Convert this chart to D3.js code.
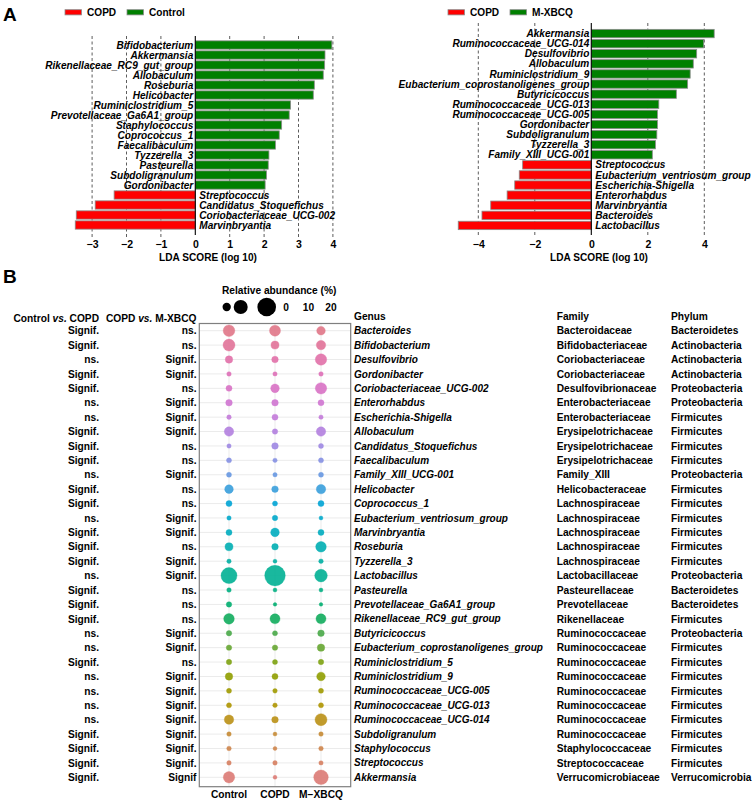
<!DOCTYPE html>
<html><head><meta charset="utf-8">
<script src="https://cdn.jsdelivr.net/npm/d3@7/dist/d3.min.js"></script>
<style>
body{margin:0;background:#fff;}
svg{display:block;font-family:"Liberation Sans",Arial,Helvetica,sans-serif;}
text{font-weight:bold;}
</style></head>
<body><svg id="c" width="753" height="801"></svg>
<script>
// ---------- Panel A data ----------
const leftGenera = ["Bifidobacterium","Akkermansia","Rikenellaceae_RC9_gut_group","Allobaculum","Roseburia","Helicobacter","Ruminiclostridium_5","Prevotellaceae_Ga6A1_group","Staphylococcus","Coprococcus_1","Faecalibaculum","Tyzzerella_3","Pasteurella","Subdoligranulum","Gordonibacter","Streptococcus","Candidatus_Stoquefichus","Coriobacteriaceae_UCG-002","Marvinbryantia"];
const leftLDA = [3.97,3.77,3.76,3.72,3.46,3.43,2.77,2.73,2.51,2.44,2.33,2.14,2.12,2.07,2.03,-2.36,-2.91,-3.46,-3.49];
const leftTicks = [-3,-2,-1,0,1,2,3,4];
const leftLegend = ["COPD","Control"];

const rightGenera = ["Akkermansia","Ruminococcaceae_UCG-014","Desulfovibrio","Allobaculum","Ruminiclostridium_9","Eubacterium_coprostanoligenes_group","Butyricicoccus","Ruminococcaceae_UCG-013","Ruminococcaceae_UCG-005","Gordonibacter","Subdoligranulum","Tyzzerella_3","Family_XIII_UCG-001","Streptococcus","Eubacterium_ventriosum_group","Escherichia-Shigella","Enterorhabdus","Marvinbryantia","Bacteroides","Lactobacillus"];
const rightLDA = [4.35,3.98,3.73,3.61,3.50,3.41,3.01,2.39,2.34,2.34,2.32,2.27,2.16,-2.43,-2.55,-2.71,-2.98,-3.56,-3.87,-4.71];
const rightTicks = [-4,-2,0,2,4];
const rightLegend = ["COPD","M-XBCQ"];

// ---------- Panel B data ----------
const genusB = ["Bacteroides","Bifidobacterium","Desulfovibrio","Gordonibacter","Coriobacteriaceae_UCG-002","Enterorhabdus","Escherichia-Shigella","Allobaculum","Candidatus_Stoquefichus","Faecalibaculum","Family_XIII_UCG-001","Helicobacter","Coprococcus_1","Eubacterium_ventriosum_group","Marvinbryantia","Roseburia","Tyzzerella_3","Lactobacillus","Pasteurella","Prevotellaceae_Ga6A1_group","Rikenellaceae_RC9_gut_group","Butyricicoccus","Eubacterium_coprostanoligenes_group","Ruminiclostridium_5","Ruminiclostridium_9","Ruminococcaceae_UCG-005","Ruminococcaceae_UCG-013","Ruminococcaceae_UCG-014","Subdoligranulum","Staphylococcus","Streptococcus","Akkermansia"];
const familyB = ["Bacteroidaceae","Bifidobacteriaceae","Coriobacteriaceae","Coriobacteriaceae","Desulfovibrionaceae","Enterobacteriaceae","Enterobacteriaceae","Erysipelotrichaceae","Erysipelotrichaceae","Erysipelotrichaceae","Family_XIII","Helicobacteraceae","Lachnospiraceae","Lachnospiraceae","Lachnospiraceae","Lachnospiraceae","Lachnospiraceae","Lactobacillaceae","Pasteurellaceae","Prevotellaceae","Rikenellaceae","Ruminococcaceae","Ruminococcaceae","Ruminococcaceae","Ruminococcaceae","Ruminococcaceae","Ruminococcaceae","Ruminococcaceae","Ruminococcaceae","Staphylococcaceae","Streptococcaceae","Verrucomicrobiaceae"];
const phylumB = ["Bacteroidetes","Actinobacteria","Actinobacteria","Actinobacteria","Proteobacteria","Proteobacteria","Firmicutes","Firmicutes","Firmicutes","Firmicutes","Proteobacteria","Firmicutes","Firmicutes","Firmicutes","Firmicutes","Firmicutes","Firmicutes","Proteobacteria","Bacteroidetes","Bacteroidetes","Firmicutes","Proteobacteria","Firmicutes","Firmicutes","Firmicutes","Firmicutes","Firmicutes","Firmicutes","Firmicutes","Firmicutes","Firmicutes","Verrucomicrobia"];
const ctrlVsCopd = ["Signif.","Signif.","ns.","Signif.","Signif.","ns.","ns.","Signif.","Signif.","Signif.","ns.","Signif.","Signif.","ns.","Signif.","Signif.","Signif.","ns.","Signif.","Signif.","Signif.","ns.","ns.","Signif.","ns.","ns.","ns.","ns.","Signif.","Signif.","Signif.","Signif."];
const copdVsMx = ["ns.","ns.","Signif.","Signif.","ns.","Signif.","Signif.","Signif.","ns.","ns.","Signif.","ns.","ns.","Signif.","Signif.","ns.","Signif.","Signif.","ns.","ns.","ns.","Signif.","Signif.","ns.","Signif.","Signif.","Signif.","Signif.","Signif.","Signif.","Signif.","Signif"];
const groups = ["Control","COPD","M−XBCQ"];
const abundControl = [7.8,8.3,3.2,1.2,2.1,2.5,1.2,5.1,1.1,1.45,1.45,4.3,2.1,1.1,2.1,3.7,1.1,14.8,1.2,1.7,6.5,1.7,1.7,1.7,3.2,1.45,1.45,5.1,1.2,1.2,1.2,7.5];
const abundCOPD    = [7.0,3.7,2.5,1.1,4.3,2.5,2.1,1.7,2.5,1.1,1.1,2.5,1.45,1.7,4.3,2.5,0.9,24.5,0.9,0.75,5.8,1.45,1.7,1.45,2.1,1.2,1.2,2.5,0.9,0.9,1.2,0.9];
const abundMXBCQ   = [4.3,5.1,7.5,1.2,7.5,2.1,1.1,5.1,1.45,1.45,1.45,5.1,2.1,0.9,2.1,6.5,1.2,9.2,0.9,0.75,5.8,2.5,3.2,1.7,4.3,1.45,1.45,8.3,1.2,1.2,1.1,12.3];
const sizeLegendValues = [4, 11.3, 20];
const sizeLegendLabels = ["0","10","20"];

// ---------- helpers ----------
function hclLuv(h, c, l){
  const hr = h*Math.PI/180, u = c*Math.cos(hr), v = c*Math.sin(hr);
  const Xn=95.047, Yn=100, Zn=108.883;
  const Y = l>8 ? Yn*Math.pow((l+16)/116,3) : Yn*l/903.3;
  const den = Xn+15*Yn+3*Zn, un = 4*Xn/den, vn = 9*Yn/den;
  const up = u/(13*l)+un, vp = v/(13*l)+vn;
  const X = Y*9*up/(4*vp), Z = Y*(12-3*up-20*vp)/(4*vp);
  const x=X/100,y=Y/100,z=Z/100;
  let rgb = [3.2404542*x-1.5371385*y-0.4985314*z, -0.9692660*x+1.8760108*y+0.0415560*z, 0.0556434*x-0.2040259*y+1.0572252*z];
  rgb = rgb.map(t=>{t = t<=0.0031308?12.92*t:1.055*Math.pow(t,1/2.4)-0.055; return Math.max(0,Math.min(1,t))*255;});
  return d3.rgb(rgb[0],rgb[1],rgb[2]).formatHex();
}

const svg = d3.select("#c");
const FS = 10.1;
const FSB = 10.2;

// ---------- Panel A ----------
svg.append("text").attr("x",3).attr("y",21).attr("font-size",19).text("A");
svg.append("text").attr("x",3).attr("y",283).attr("font-size",19).text("B");

function ldaPanel(opts){
  const {genera, vals, ticks, gridTicks, x, yTop, yRange, legend, legX, titleX} = opts;
  const g = svg.append("g");
  const y = d3.scaleBand().domain(genera).range(yRange).paddingInner(0.17).paddingOuter(0.085);
  g.selectAll("line.grid").data(gridTicks).join("line")
    .attr("x1",d=>x(d)).attr("x2",d=>x(d)).attr("y1",yTop).attr("y2",237)
    .attr("stroke","#333").attr("stroke-width",0.8).attr("stroke-dasharray","3,2.5");
  g.selectAll("rect.bar").data(genera).join("rect")
    .attr("x",(d,i)=>Math.min(x(0),x(vals[i])))
    .attr("width",(d,i)=>Math.abs(x(vals[i])-x(0)))
    .attr("y",d=>y(d)).attr("height",y.bandwidth())
    .attr("fill",(d,i)=>vals[i]>0?"#008000":"#ff0000")
    .attr("stroke","#8a8a8a").attr("stroke-width",0.8);
  g.append("line").attr("x1",x(0)).attr("x2",x(0)).attr("y1",yTop).attr("y2",235)
    .attr("stroke","#000").attr("stroke-width",1.1);
  g.selectAll("text.lab").data(genera).join("text")
    .attr("x",(d,i)=>vals[i]>0?x(0)-2:x(0)+4)
    .attr("y",d=>y(d)+y.bandwidth()/2).attr("dy","0.36em")
    .attr("text-anchor",(d,i)=>vals[i]>0?"end":"start")
    .attr("font-size",FS).attr("font-style","italic").text(d=>d);
  const ax = g.append("g").attr("transform","translate(0,238)")
    .call(d3.axisBottom(x).tickValues(ticks).tickSize(0).tickPadding(3).tickFormat(d3.format("d")));
  ax.select(".domain").remove();
  ax.selectAll("text").attr("font-size",10.5).attr("font-weight","bold").attr("fill","#000")
    .attr("font-family","Liberation Sans, Arial, sans-serif");
  g.append("text").attr("x",titleX).attr("y",261).attr("text-anchor","middle").attr("font-size",FS).text("LDA SCORE (log 10)");
  const cols = ["#ff0000","#008000"];
  legend.forEach((lab,i)=>{
    const lx = legX[i];
    g.append("rect").attr("x",lx).attr("y",9.7).attr("width",16.5).attr("height",5.2)
      .attr("fill",cols[i]).attr("stroke","#8a8a8a").attr("stroke-width",0.8);
    g.append("text").attr("x",lx+22).attr("y",15.5).attr("font-size",FS).text(lab);
  });
}

ldaPanel({genera:leftGenera, vals:leftLDA, ticks:leftTicks, gridTicks:[-3,-2,-1,1,2,3,4],
  x:d3.scaleLinear().domain([-3,4]).range([92.1,332.9]), yTop:36, yRange:[40,230],
  legend:leftLegend, legX:[65,127], titleX:208});
ldaPanel({genera:rightGenera, vals:rightLDA, ticks:rightTicks, gridTicks:[-4,-2,2,4],
  x:d3.scaleLinear().domain([-4,4]).range([478.3,704.3]), yTop:23, yRange:[28.5,230.5],
  legend:rightLegend, legX:[448,510], titleX:599});

// ---------- Panel B ----------
const B = svg.append("g");
const xB = d3.scalePoint().domain(groups).range([229,321]);
const yB = d3.scalePoint().domain(genusB).range([330.7,777.3]);
const rB = d3.scaleSqrt().domain([0,20]).range([0,9.3]);
const box = {x0:199.3, x1:350.7, y0:323.5, y1:786.7};

B.selectAll("line.h").data(genusB).join("line")
  .attr("x1",box.x0).attr("x2",box.x1).attr("y1",d=>yB(d)).attr("y2",d=>yB(d))
  .attr("stroke","#ebebeb").attr("stroke-width",1);
B.selectAll("line.v").data(groups).join("line")
  .attr("x1",d=>xB(d)).attr("x2",d=>xB(d)).attr("y1",box.y0).attr("y2",box.y1)
  .attr("stroke","#ebebeb").attr("stroke-width",1);

const abund = [abundControl, abundCOPD, abundMXBCQ];
const n = genusB.length;
const rowColor = i => hclLuv(15 + 360*(n-1-i)/n, 72, 62);
const pts = [];
genusB.forEach((gname,i)=>groups.forEach((grp,j)=>pts.push({gname,i,grp,v:abund[j][i]})));
B.selectAll("circle.pt").data(pts).join("circle")
  .attr("cx",d=>xB(d.grp)).attr("cy",d=>yB(d.gname)).attr("r",d=>rB(d.v))
  .attr("fill",d=>rowColor(d.i)).attr("fill-opacity",0.9)
  .attr("stroke",d=>rowColor(d.i)).attr("stroke-opacity",0.35).attr("stroke-width",1);

B.append("rect").attr("x",box.x0).attr("y",box.y0).attr("width",box.x1-box.x0).attr("height",box.y1-box.y0)
  .attr("fill","none").attr("stroke","#7f7f7f").attr("stroke-width",1.2);

B.selectAll("text.xl").data(groups).join("text")
  .attr("x",d=>xB(d)).attr("y",797.5).attr("text-anchor","middle").attr("font-size",FSB).text(d=>d);

B.selectAll("text.s1").data(genusB).join("text")
  .attr("x",99).attr("y",d=>yB(d)).attr("dy","0.36em").attr("text-anchor","end").attr("font-size",FSB)
  .text((d,i)=>ctrlVsCopd[i]);
B.selectAll("text.s2").data(genusB).join("text")
  .attr("x",196.5).attr("y",d=>yB(d)).attr("dy","0.36em").attr("text-anchor","end").attr("font-size",FSB)
  .text((d,i)=>copdVsMx[i]);
B.selectAll("text.gn").data(genusB).join("text")
  .attr("x",354).attr("y",d=>yB(d)).attr("dy","0.36em").attr("font-size",10).attr("font-style","italic").text(d=>d);
B.selectAll("text.fm").data(genusB).join("text")
  .attr("x",556.7).attr("y",d=>yB(d)).attr("dy","0.36em").attr("font-size",FSB).text((d,i)=>familyB[i]);
B.selectAll("text.ph").data(genusB).join("text")
  .attr("x",671).attr("y",d=>yB(d)).attr("dy","0.36em").attr("font-size",FSB).text((d,i)=>phylumB[i]);

function vsHeader(xr, a, b){
  const t = B.append("text").attr("x",xr).attr("y",321.5).attr("text-anchor","end").attr("font-size",FSB);
  t.append("tspan").text(a+" ");
  t.append("tspan").attr("font-style","italic").text("vs.");
  t.append("tspan").text(" "+b);
}
vsHeader(99,"Control","COPD");
vsHeader(196.5,"COPD","M-XBCQ");
B.append("text").attr("x",354).attr("y",320).attr("font-size",FSB).text("Genus");
B.append("text").attr("x",556.7).attr("y",320).attr("font-size",FSB).text("Family");
B.append("text").attr("x",671).attr("y",320).attr("font-size",FSB).text("Phylum");

B.append("text").attr("x",222).attr("y",293.5).attr("font-size",FSB).text("Relative abundance (%)");
const legCx = [226.7, 240.7, 266.7];
B.selectAll("circle.leg").data(sizeLegendValues).join("circle")
  .attr("cx",(d,i)=>legCx[i]).attr("cy",307).attr("r",d=>rB(d)).attr("fill","#000");
const legTx = [286, 308.5, 331];
B.selectAll("text.legl").data(sizeLegendLabels).join("text")
  .attr("x",(d,i)=>legTx[i]).attr("y",307).attr("dy","0.36em").attr("text-anchor","middle").attr("font-size",FSB).text(d=>d);
</script></body></html>
